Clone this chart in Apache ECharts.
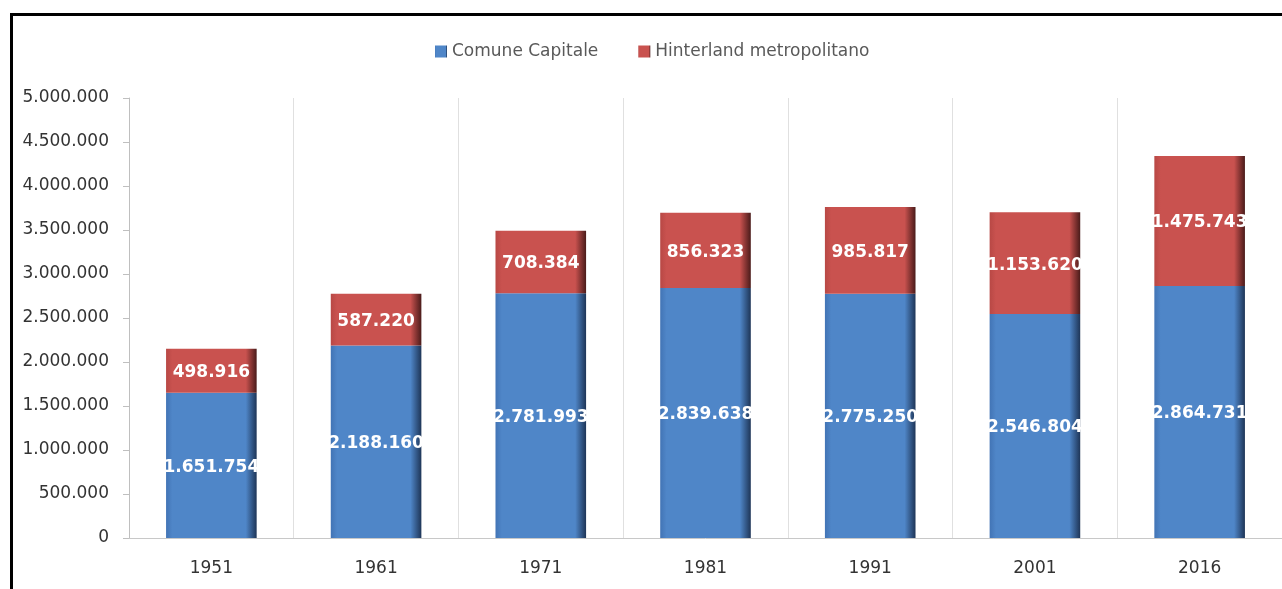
<!DOCTYPE html>
<html>
<head>
<meta charset="utf-8">
<script src="https://cdn.jsdelivr.net/npm/echarts@6/dist/echarts.min.js"></script>
<style>
  html, body { margin: 0; padding: 0; background: #fff; }
  #chart { position: absolute; left: 0; top: 0; width: 1282px; height: 589px; }
  #frame { position: absolute; left: 10px; top: 13px; width: 1280px; height: 590px;
           border-top: 3px solid #000; border-left: 3px solid #000; pointer-events: none; }
</style>
</head>
<body>
<div id="chart"></div>
<div id="frame"></div>
<script>
const years = ['1951', '1961', '1971', '1981', '1991', '2001', '2016'];
const comuneCapitale = [1651754, 2188160, 2781993, 2839638, 2775250, 2546804, 2864731];
const hinterland = [498916, 587220, 708384, 856323, 985817, 1153620, 1475743];
const seriesNames = ['Comune Capitale', 'Hinterland metropolitano'];

function fmt(v) {
  return String(Math.round(v)).replace(/\B(?=(\d{3})+(?!\d))/g, '.');
}

function barGrad(edge, main, dark) {
  return new echarts.graphic.LinearGradient(0, 0, 1, 0, [
    { offset: 0, color: edge },
    { offset: 0.07, color: main },
    { offset: 0.88, color: main },
    { offset: 1, color: dark }
  ]);
}

const chart = echarts.init(document.getElementById('chart'));
const labelStyle = {
  show: true,
  position: 'inside',
  color: '#ffffff',
  fontFamily: 'DejaVu Sans',
  fontWeight: 'bold',
  fontSize: 17,
  offset: [0, 2],
  formatter: p => fmt(p.value)
};

chart.setOption({
  animation: false,
  legend: {
    data: seriesNames,
    top: 38,
    left: 430,
    itemWidth: 12,
    itemHeight: 12,
    itemGap: 40,
    icon: 'rect',
    textStyle: { fontFamily: 'DejaVu Sans', fontSize: 17, color: '#595959' }
  },
  grid: { left: 129, top: 98, width: 1155, height: 440, containLabel: false },
  xAxis: {
    type: 'category',
    data: years,
    boundaryGap: true,
    axisLine: { show: true, lineStyle: { color: '#c8c8c8', width: 1 } },
    axisTick: { show: false },
    splitLine: { show: true, lineStyle: { color: '#e0e0e0', width: 1 } },
    axisLabel: { margin: 22, fontFamily: 'DejaVu Sans', fontSize: 17, color: '#333333' }
  },
  yAxis: {
    type: 'value',
    min: 0,
    max: 5000000,
    interval: 500000,
    axisLine: { show: true, lineStyle: { color: '#bfbfbf', width: 1 } },
    axisTick: { show: true, length: 6, lineStyle: { color: '#bfbfbf' } },
    splitLine: { show: false },
    axisLabel: { margin: 20, fontFamily: 'DejaVu Sans', fontSize: 17, color: '#333333', formatter: v => fmt(v) }
  },
  series: [
    {
      name: seriesNames[0],
      type: 'bar',
      stack: 'tot',
      barWidth: '55%',
      data: comuneCapitale,
      itemStyle: { color: barGrad('#4274b5', '#4f86c8', '#1e3557') },
      label: labelStyle
    },
    {
      name: seriesNames[1],
      type: 'bar',
      stack: 'tot',
      barWidth: '55%',
      data: hinterland,
      itemStyle: { color: barGrad('#b84845', '#c9524f', '#4a1b1a') },
      label: labelStyle
    }
  ]
});
</script>
</body>
</html>
